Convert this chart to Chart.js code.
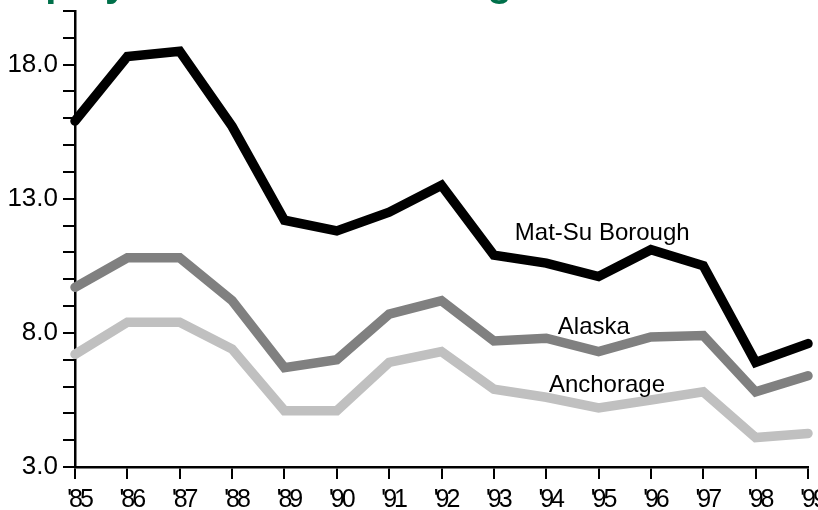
<!DOCTYPE html>
<html>
<head>
<meta charset="utf-8">
<script src="https://cdn.jsdelivr.net/npm/chart.js@4/dist/chart.umd.min.js"></script>
<style>
  html, body { margin: 0; padding: 0; background: #ffffff; }
  #wrap { position: relative; width: 818px; height: 510px; overflow: hidden; background: #ffffff; }
  #title { position: absolute; left: -66px; top: -38px; white-space: nowrap;
           font: bold 40px "Liberation Sans", Arial, sans-serif; line-height: 40px; color: #00704a; }
  canvas { position: absolute; left: 0; top: 0; }
</style>
</head>
<body>
<div id="wrap">
  <canvas id="c" width="818" height="510"></canvas>
  <div id="title">Unemployment Rate Much Higher</div>
</div>
<script>
// ---- data ----
const years = ["'85", "'86", "'87", "'88", "'89", "'90", "'91", "'92", "'93", "'94", "'95", "'96", "'97", "'98", "'99"];
const matSu = [15.9, 18.3, 18.5, 15.7, 12.2, 11.8, 12.5, 13.5, 10.9, 10.6, 10.1, 11.1, 10.5, 6.9, 7.6];
const alaska = [9.7, 10.8, 10.8, 9.2, 6.7, 7.0, 8.7, 9.2, 7.7, 7.8, 7.3, 7.85, 7.9, 5.8, 6.4];
const anchorage = [7.2, 8.4, 8.4, 7.4, 5.1, 5.1, 6.9, 7.3, 5.9, 5.6, 5.2, 5.5, 5.8, 4.1, 4.25];
const seriesNames = ["Mat-Su Borough", "Alaska", "Anchorage"];
const yLabelValues = [3, 8, 13, 18];

const FONT = '"Liberation Sans", Arial, sans-serif';

// Series name labels drawn next to the lines (anchored to scale values)
const seriesLabelPlugin = {
  id: 'seriesLabels',
  afterDatasetsDraw(chart, args, opts) {
    const ctx = chart.ctx;
    const xs = chart.scales.x, ys = chart.scales.y;
    ctx.save();
    ctx.fillStyle = '#000';
    ctx.font = '24px ' + FONT;
    ctx.textAlign = 'center';
    ctx.textBaseline = 'alphabetic';
    opts.items.forEach(it => {
      ctx.fillText(seriesNames[it.series], xs.getPixelForValue(it.at), ys.getPixelForValue(it.level));
    });
    ctx.restore();
  }
};

// Condensed x tick labels (tight letter spacing)
const condensedXPlugin = {
  id: 'condensedX',
  afterUpdate(chart) {
    const sx = chart.scales.x;
    if (sx && !sx._condensed) {
      const orig = sx.drawLabels.bind(sx);
      sx.drawLabels = function (area) {
        const ctx = this.ctx;
        ctx.save();
        ctx.letterSpacing = '-3px';
        ctx.translate(4, 0);
        orig(area);
        ctx.restore();
      };
      sx._condensed = true;
    }
  }
};

const lineStyle = { borderWidth: 9.5, pointRadius: 0, borderCapStyle: 'round', borderJoinStyle: 'miter', tension: 0, fill: false, clip: false };

new Chart(document.getElementById('c'), {
  type: 'line',
  data: {
    labels: years,
    datasets: [
      Object.assign({ label: seriesNames[2], data: anchorage, borderColor: '#c0c0c0' }, lineStyle),
      Object.assign({ label: seriesNames[1], data: alaska, borderColor: '#808080' }, lineStyle),
      Object.assign({ label: seriesNames[0], data: matSu, borderColor: '#000000' }, lineStyle)
    ]
  },
  options: {
    responsive: false,
    animation: false,
    devicePixelRatio: 1,
    layout: { padding: { top: 11, right: 10, left: 0, bottom: 0 } },
    plugins: {
      legend: { display: false },
      tooltip: { enabled: false },
      title: { display: false },
      seriesLabels: {
        items: [
          { series: 0, at: 10.07, level: 11.45 },
          { series: 1, at: 9.91, level: 7.95 },
          { series: 2, at: 10.16, level: 5.8 }
        ]
      }
    },
    scales: {
      x: {
        type: 'category',
        offset: false,
        grid: { display: true, drawOnChartArea: false, drawTicks: true, tickLength: 12, color: '#000', lineWidth: 2 },
        border: { display: true, color: '#000', width: 2.5 },
        ticks: { color: '#000', font: { family: FONT, size: 25 }, padding: 6, maxRotation: 0, autoSkip: false },
        afterFit(scale) { scale.height = 43; scale.paddingLeft = 0; scale.paddingRight = 0; }
      },
      y: {
        min: 3, max: 20,
        grid: { display: true, drawOnChartArea: false, drawTicks: true, tickLength: 12, color: '#000', lineWidth: 2 },
        border: { display: true, color: '#000', width: 2.5 },
        ticks: {
          stepSize: 1, autoSkip: false, color: '#000', padding: 5,
          font: { family: FONT, size: 26 },
          callback: (v) => yLabelValues.includes(v) ? v.toFixed(1) : ''
        },
        afterFit(scale) { scale.width = 75; scale.paddingTop = 0; scale.paddingBottom = 0; }
      }
    }
  },
  plugins: [seriesLabelPlugin, condensedXPlugin]
});
</script>
</body>
</html>
